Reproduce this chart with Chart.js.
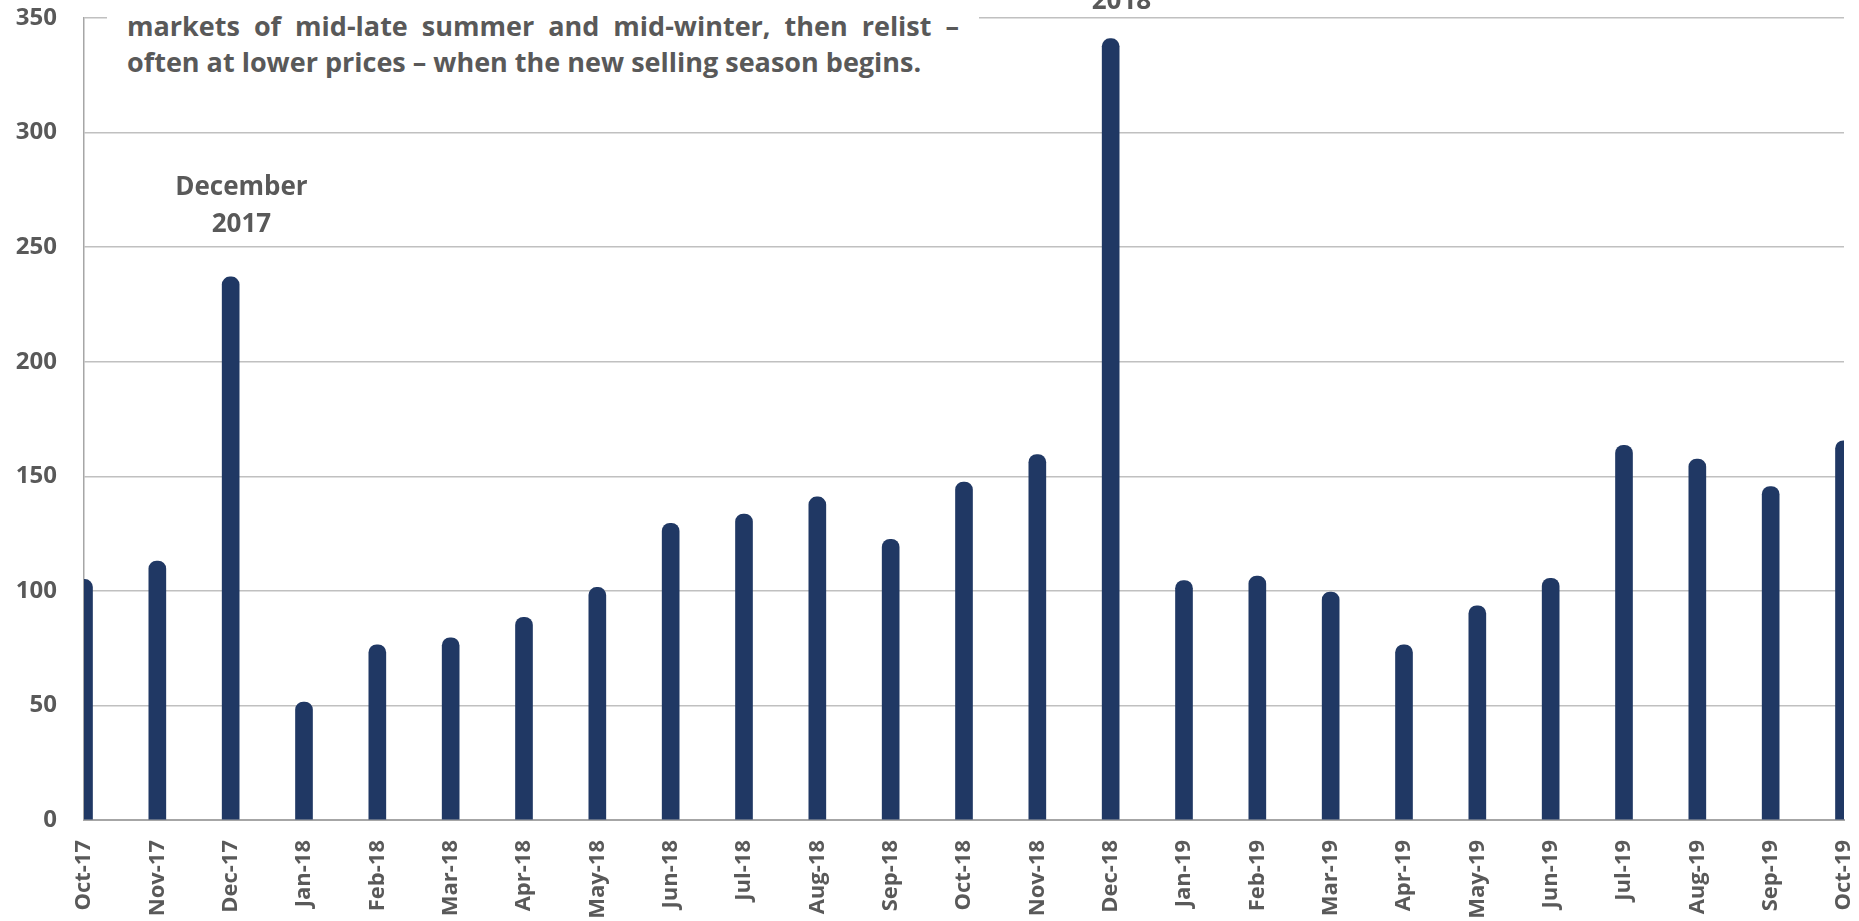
<!DOCTYPE html>
<html>
<head>
<meta charset="utf-8">
<script src="https://cdn.jsdelivr.net/npm/chart.js@4.4.0/dist/chart.umd.min.js"></script>
<style>
  html,body{margin:0;padding:0;background:#fff}
  #wrap{position:relative;width:1859px;height:921px;overflow:hidden}
  .note{position:absolute;font-family:'Open Sans',sans-serif;font-weight:700;color:#595959}
  #topNote{left:107px;top:0;width:832px;padding:8px 20px 6px 20px;background:#fff;font-size:27px;line-height:36px}
  #topNote .l1{text-align:justify;text-align-last:justify}
  .peak{text-align:center;font-size:26px;line-height:37px;white-space:nowrap}
</style>
</head>
<body>
<div id="wrap">
  <canvas id="c"></canvas>
  <div class="note" id="topNote">
    <div class="l1">markets of mid-late summer and mid-winter, then relist –</div>
    <div>often at lower prices – when the new selling season begins.</div>
  </div>
</div>
<script>
/* ── 데이터 ───────────────────────────────────────────── */
const MONTHS = ['Oct-17','Nov-17','Dec-17','Jan-18','Feb-18','Mar-18','Apr-18','May-18','Jun-18',
                'Jul-18','Aug-18','Sep-18','Oct-18','Nov-18','Dec-18','Jan-19','Feb-19','Mar-19',
                'Apr-19','May-19','Jun-19','Jul-19','Aug-19','Sep-19','Oct-19'];
const VALUES = [105, 113, 237, 51.5, 76.5, 79.5, 88.5, 101.5, 129.5,
                133.5, 141, 122.5, 147.5, 159.5, 341, 104.5, 106.5, 99.5,
                76.5, 93.5, 105.5, 163.5, 157.5, 145.5, 165.5];
const Y_TICKS = [0, 50, 100, 150, 200, 250, 300, 350];
const PEAKS   = [{month:'Dec-17', lines:['December','2017']},
                 {month:'Dec-18', lines:['December','2018']}];

const GREY = '#595959';
const PEAK_GAP = [36, 21];   // 막대 끝과 라벨 사이 간격(px)

/* ── 피크 라벨: 막대 위에 HTML 텍스트로 배치 ─────────── */
const wrap = document.getElementById('wrap');
const peakEls = PEAKS.map(p=>{
  const d = document.createElement('div');
  d.className = 'note peak';
  d.innerHTML = p.lines.join('<br>');
  wrap.appendChild(d);
  return d;
});
const placePeaks = {
  id:'placePeaks',
  afterRender(chart){
    const xs = chart.scales.x, ys = chart.scales.y;
    PEAKS.forEach((p,i)=>{
      const idx = MONTHS.indexOf(p.month);
      const x = xs.getPixelForValue(idx);
      const yTop = ys.getPixelForValue(VALUES[idx]);
      const el = peakEls[i];
      el.style.left = (x - el.offsetWidth/2 + 11) + 'px';
      el.style.top  = (yTop - PEAK_GAP[i] - el.offsetHeight) + 'px';
    });
  }
};

Chart.defaults.font.family = "'Open Sans', sans-serif";
Chart.defaults.font.weight = 'bold';
Chart.defaults.color = GREY;

const cv = document.getElementById('c');
cv.width = 1859; cv.height = 921;
cv.style.width = '1859px'; cv.style.height = '921px';

new Chart(cv, {
  type:'bar',
  data:{
    labels: MONTHS,
    datasets:[{
      data: VALUES,
      backgroundColor:'#203864',
      barThickness:17,
      borderRadius:{topLeft:8, topRight:8, bottomLeft:0, bottomRight:0},
      borderSkipped:'start'
    }]
  },
  options:{
    responsive:false, animation:false, devicePixelRatio:1,
    layout:{padding:{top:18, right:15, left:0, bottom:0}},
    plugins:{legend:{display:false}, tooltip:{enabled:false}},
    scales:{
      x:{
        offset:false,
        grid:{display:false, offset:false, drawTicks:false},
        border:{display:true, color:'#A6A6A6', width:2},
        ticks:{autoSkip:false, minRotation:90, maxRotation:90, padding:20,
               font:{size:22, weight:'bold'}, color:GREY},
        afterFit(s){ s.height = 101; s.paddingLeft = 0; s.paddingRight = 0; }
      },
      y:{
        min:0, max:350,
        afterBuildTicks(s){ s.ticks = Y_TICKS.map(v=>({value:v})); },
        grid:{color:'#C0C0C0', lineWidth:1.5, drawTicks:false},
        border:{display:true, color:'#A6A6A6', width:1.5},
        ticks:{padding:27, font:{size:24, weight:'bold'}, color:GREY},
        afterFit(s){ s.width = 84; s.paddingTop = 0; s.paddingBottom = 0; }
      }
    }
  },
  plugins:[placePeaks]
});
</script>
</body>
</html>
